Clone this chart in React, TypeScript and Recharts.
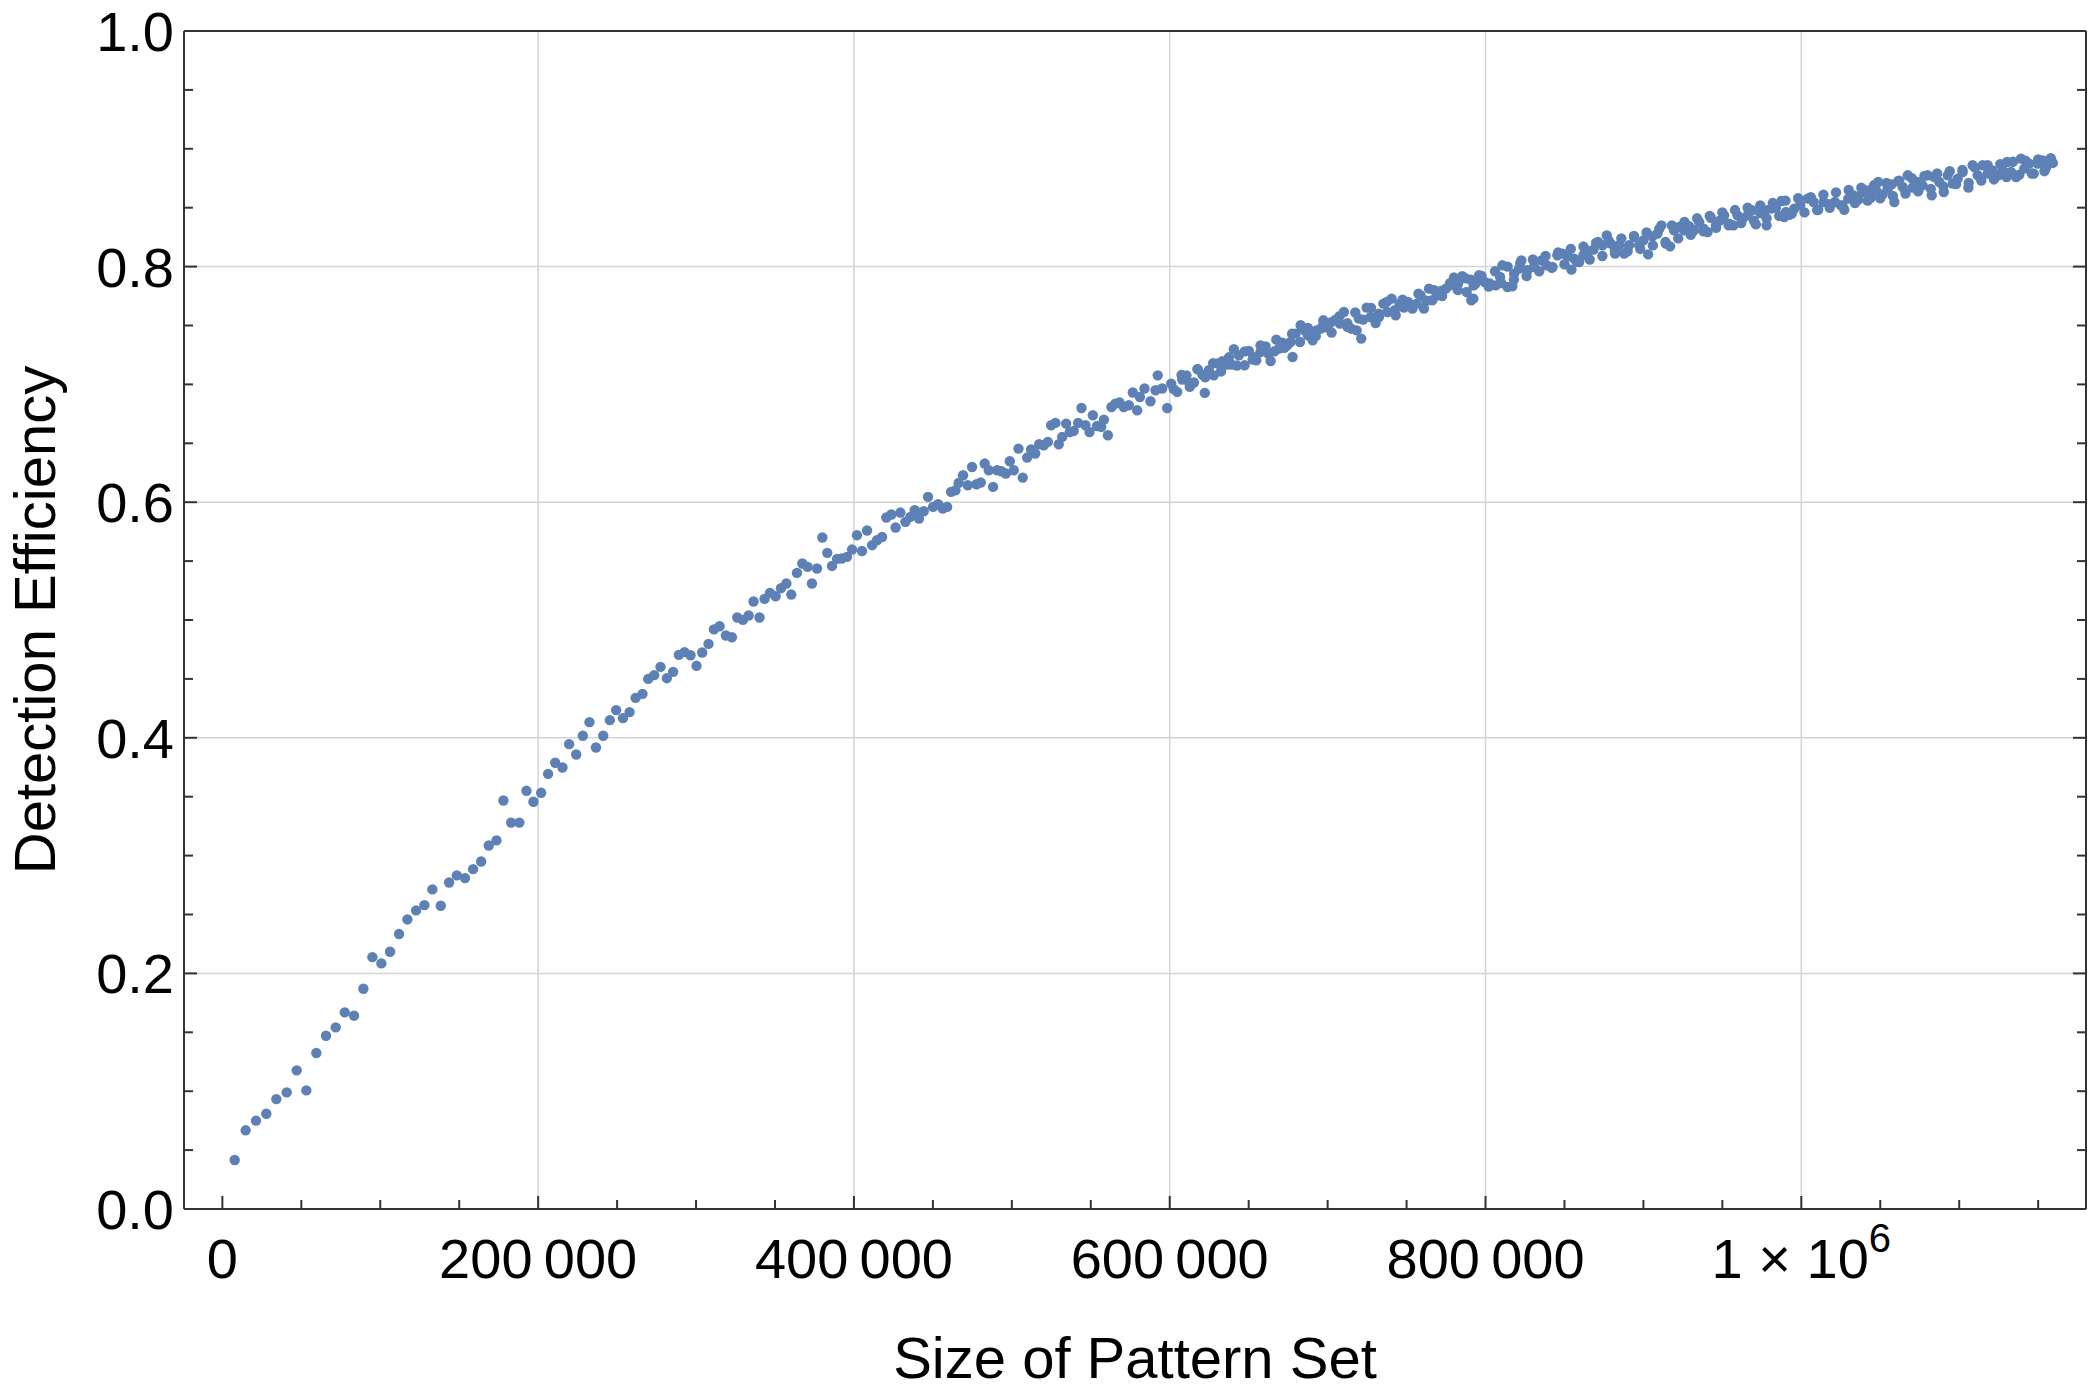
import { ScatterChart, Scatter, XAxis, YAxis, CartesianGrid, Label } from 'recharts';

// pattern-set sizes (individually visible points)
const patternSizes = [
  7800, 14760, 21300, 27840, 34170, 40740, 47080, 53180, 59520, 65650,
  71790, 77500, 83400, 89300, 95000, 100700, 106200, 111900, 117200, 122700,
  127950, 133000, 138300, 143600, 148500, 153700, 158800, 163900, 168700, 173600,
  178000, 182900, 188100, 192600, 197000, 201900, 206300, 210800, 215400, 219600,
  224100, 228300, 232500, 236600, 241200, 245400, 249400, 253700, 257900, 261700,
  266100, 269700, 273500, 277500, 281500, 285500, 289100, 292700, 296500, 300300,
  303900, 307900, 311300, 314900, 318900, 322700, 326100, 329700, 333300, 336400,
  340200, 343400, 346800, 350400, 353800, 357200, 360300, 363900, 367300, 370700,
  373400, 376600, 380000, 383100, 386100, 389300, 392200, 395600, 398800, 401900,
  405100, 408300, 411500, 414600, 417800, 420500, 423700, 426400, 429400, 432600,
  435700, 438500, 441200, 444200, 446900, 450100, 453300, 456200, 459000, 461500,
  464300, 466300, 469100, 472100, 474800, 477600, 480300, 482800, 485400, 488100,
  490700, 493400, 496200, 498700, 501200, 504200, 506900, 509700, 512200, 514800,
  517300, 520200, 522800, 524900, 527600, 529700, 531900, 534400, 536700, 539200,
  542000, 544100, 546600, 549200, 551300, 554000, 556600, 558300, 560800, 563100,
  565600, 568200, 570900, 574100, 576600, 579400, 581100, 584000, 587800, 591000,
  592400, 595200, 598400, 600900, 604700, 607900, 610600, 612700, 615300, 617800,
  620600, 622200, 624800, 627900, 630500, 633200, 636400, 639200, 640600, 643800,
  647400, 650100, 652900, 654800, 657500, 660700, 663900, 666400, 669100, 671300,
  674400, 676500, 677800, 679700, 682900, 685400, 687500, 690500, 693000, 695600,
  697300, 699800, 702300, 705100, 707800, 710300, 712500, 715000, 718400, 719800,
  721300, 724700, 727200, 730400, 732500, 735300, 737800, 740500, 743100, 745600,
  748300, 750900, 753700, 756400, 758900, 761000, 764200, 766300, 769500, 772000,
  774800, 777500, 780000, 782600, 785300, 788100, 790600, 791000, 792300, 793700,
  795900, 799500, 802800, 806500, 809200, 810700, 813900, 817000, 818100, 821200,
  822700, 826500, 830700, 835400, 838800, 842400, 845500, 848700, 851900, 854400,
  856100, 859300, 862000, 865000, 868400, 871300, 874100, 876800, 879300, 881900,
  884600, 887800, 890900, 894100, 897300, 900000, 903000, 905700, 908900, 911400,
  914200, 916900, 919400, 922600, 925800, 929000, 932100, 935300, 938100, 940600,
  942700, 945900, 948600, 951100, 954300, 957100, 959600, 962800, 965900, 968700,
  971200, 974000, 976900, 978000, 980700, 983900, 987500, 989100, 990200, 992300,
  995500, 999300, 1004000, 1007800, 1010700, 1014100, 1017700, 1021300, 1025100, 1027200,
  1029700, 1033100, 1036100, 1038800, 1041600, 1044100, 1047300, 1048700, 1051500, 1054700,
  1057200, 1058900, 1061400, 1064200, 1067400, 1070500, 1073700, 1076800, 1080000, 1082600,
  1084200, 1087400, 1090200, 1092700, 1095900, 1099100, 1102200, 1105800, 1108500, 1111700,
  1114900, 1118000, 1121200, 1124800, 1127600, 1130300, 1132800, 1136000, 1139100, 1141200,
  1144400, 1147200, 1149700, 1152900, 1155000, 1157100, 1159300,
];

const efficiency = [
  0.0416, 0.0668, 0.0750, 0.0809, 0.0933, 0.0990, 0.1177, 0.1007, 0.1324, 0.1471,
  0.1542, 0.1669, 0.1641, 0.1870, 0.2138, 0.2085, 0.2184, 0.2334, 0.2458, 0.2535,
  0.2580, 0.2713, 0.2574, 0.2772, 0.2832, 0.2809, 0.2885, 0.2950, 0.3086, 0.3129,
  0.3468, 0.3280, 0.3280, 0.3550, 0.3457, 0.3533, 0.3694, 0.3788, 0.3748, 0.3946,
  0.3858, 0.4017, 0.4133, 0.3918, 0.4017, 0.4150, 0.4235, 0.4167, 0.4218, 0.4339,
  0.4373, 0.4500, 0.4532, 0.4602, 0.4506, 0.4560, 0.4704, 0.4727, 0.4701, 0.4611,
  0.4724, 0.4797, 0.4920, 0.4947, 0.4868, 0.4854, 0.5021, 0.5001, 0.5038, 0.5157,
  0.5021, 0.5179, 0.5230, 0.5202, 0.5270, 0.5310, 0.5216, 0.5400, 0.5480, 0.5451,
  0.5310, 0.5437, 0.5700, 0.5570, 0.5459, 0.5519, 0.5522, 0.5536, 0.5598, 0.5720,
  0.5586, 0.5760, 0.5635, 0.5677, 0.5705, 0.5870, 0.5896, 0.5785, 0.5912, 0.5833,
  0.5875, 0.5932, 0.5861, 0.5923, 0.6045, 0.5960, 0.5983, 0.5946, 0.5960, 0.6088,
  0.6101, 0.6164, 0.6229, 0.6144, 0.6299, 0.6152, 0.6167, 0.6328, 0.6271, 0.6130,
  0.6271, 0.6263, 0.6243, 0.6348, 0.6271, 0.6455, 0.6209, 0.6379, 0.6447, 0.6413,
  0.6492, 0.6483, 0.6512, 0.6653, 0.6673, 0.6492, 0.6554, 0.6667, 0.6596, 0.6605,
  0.6673, 0.6800, 0.6653, 0.6596, 0.6738, 0.6647, 0.6639, 0.6701, 0.6568, 0.6808,
  0.6837, 0.6846, 0.6808, 0.6823, 0.6931, 0.6780, 0.6893, 0.6965, 0.6857, 0.6950,
  0.7077, 0.6965, 0.6800, 0.7007, 0.6936, 0.7042, 0.7077, 0.6979, 0.7016, 0.7128,
  0.7083, 0.6928, 0.7120, 0.7077, 0.7177, 0.7196, 0.7168, 0.7168, 0.7298, 0.7247,
  0.7162, 0.7284, 0.7233, 0.7205, 0.7275, 0.7323, 0.7199, 0.7281, 0.7304, 0.7355,
  0.7332, 0.7360, 0.7233, 0.7431, 0.7502, 0.7459, 0.7417, 0.7374, 0.7459, 0.7473,
  0.7544, 0.7482, 0.7529, 0.7550, 0.7516, 0.7615, 0.7489, 0.7473, 0.7459, 0.7558,
  0.7389, 0.7652, 0.7572, 0.7521, 0.7572, 0.7686, 0.7615, 0.7728, 0.7587, 0.7686,
  0.7652, 0.7700, 0.7643, 0.7686, 0.7756, 0.7643, 0.7813, 0.7714, 0.7756, 0.7793,
  0.7813, 0.7841, 0.7907, 0.7856, 0.7918, 0.7784, 0.7889, 0.7714, 0.7728, 0.7856,
  0.7926, 0.7869, 0.7856, 0.7841, 0.7912, 0.8011, 0.7827, 0.7833, 0.7940, 0.7983,
  0.8053, 0.7969, 0.7997, 0.8053, 0.8011, 0.7997, 0.8096, 0.8110, 0.8087, 0.7974,
  0.8068, 0.8039, 0.8096, 0.8132, 0.8144, 0.8209, 0.8181, 0.8265, 0.8195, 0.8138,
  0.8181, 0.8110, 0.8181, 0.8251, 0.8181, 0.8223, 0.8104, 0.8257, 0.8280, 0.8350,
  0.8195, 0.8172, 0.8308, 0.8336, 0.8308, 0.8342, 0.8308, 0.8378, 0.8322, 0.8294,
  0.8415, 0.8350, 0.8393, 0.8435, 0.8365, 0.8350, 0.8435, 0.8407, 0.8435, 0.8478,
  0.8359, 0.8455, 0.8478, 0.8350, 0.8492, 0.8500, 0.8557, 0.8421, 0.8463, 0.8440,
  0.8492, 0.8520, 0.8577, 0.8548, 0.8483, 0.8548, 0.8529, 0.8548, 0.8520, 0.8483,
  0.8577, 0.8605, 0.8568, 0.8633, 0.8647, 0.8585, 0.8647, 0.8718, 0.8613, 0.8662,
  0.8698, 0.8548, 0.8727, 0.8676, 0.8775, 0.8670, 0.8718, 0.8690, 0.8775, 0.8605,
  0.8760, 0.8718, 0.8633, 0.8775, 0.8704, 0.8747, 0.8803, 0.8670, 0.8860, 0.8775,
  0.8860, 0.8789, 0.8817, 0.8775, 0.8817, 0.8888, 0.8803, 0.8760, 0.8917, 0.8832,
  0.8874, 0.8789, 0.8874, 0.8902, 0.8840, 0.8902, 0.8880,
];

// points hidden inside the thick band on the right half of the plot
const bandSizes = [
  602500, 607500, 612500, 617500, 622500, 627500, 632500, 637500, 642500, 647500,
  652500, 657500, 662500, 667500, 672500, 677500, 682500, 687500, 692500, 697500,
  702500, 707500, 712500, 717500, 722500, 727500, 732500, 737500, 742500, 747500,
  752500, 757500, 762500, 767500, 772500, 777500, 782500, 787500, 792500, 797500,
  802000, 806000, 810000, 814000, 818000, 822000, 826000, 830000, 834000, 838000,
  842000, 846000, 850000, 854000, 858000, 862000, 866000, 870000, 874000, 878000,
  882000, 886000, 890000, 894000, 898000, 902000, 906000, 910000, 914000, 918000,
  922000, 926000, 930000, 934000, 938000, 942000, 946000, 950000, 954000, 958000,
  962000, 966000, 970000, 974000, 978000, 982000, 986000, 990000, 994000, 998000,
  1002000, 1006000, 1010000, 1014000, 1018000, 1022000, 1026000, 1030000, 1034000, 1038000,
  1042000, 1046000, 1050000, 1054000, 1058000, 1062000, 1066000, 1070000, 1074000, 1078000,
  1082000, 1086000, 1090000, 1094000, 1098000, 1102000, 1106000, 1110000, 1114000, 1118000,
  1122000, 1126000, 1130000, 1134000, 1138000, 1142000, 1146000, 1150000, 1154000, 1158000,
];

const bandEfficiency = [
  0.696, 0.708, 0.701, 0.713, 0.706, 0.718, 0.711, 0.723, 0.716, 0.728,
  0.721, 0.733, 0.726, 0.738, 0.731, 0.743, 0.736, 0.748, 0.741, 0.752,
  0.744, 0.758, 0.752, 0.761, 0.755, 0.765, 0.760, 0.770, 0.763, 0.772,
  0.767, 0.777, 0.771, 0.780, 0.775, 0.786, 0.780, 0.790, 0.784, 0.792,
  0.783, 0.796, 0.786, 0.800, 0.789, 0.803, 0.792, 0.806, 0.796, 0.809,
  0.799, 0.812, 0.802, 0.815, 0.804, 0.817, 0.806, 0.820, 0.809, 0.822,
  0.811, 0.824, 0.813, 0.826, 0.815, 0.829, 0.818, 0.832, 0.821, 0.835,
  0.824, 0.838, 0.827, 0.841, 0.830, 0.843, 0.833, 0.846, 0.835, 0.848,
  0.837, 0.850, 0.839, 0.852, 0.841, 0.854, 0.843, 0.856, 0.845, 0.858,
  0.846, 0.859, 0.848, 0.861, 0.850, 0.863, 0.852, 0.865, 0.854, 0.867,
  0.856, 0.869, 0.858, 0.871, 0.860, 0.873, 0.862, 0.875, 0.864, 0.877,
  0.866, 0.879, 0.868, 0.881, 0.870, 0.882, 0.871, 0.884, 0.873, 0.886,
  0.874, 0.887, 0.876, 0.889, 0.878, 0.890, 0.879, 0.891, 0.881, 0.892,
];

const xLabelTicks = [0, 200000, 400000, 600000, 800000, 1000000];
const xGridValues = [200000, 400000, 600000, 800000, 1000000];
const xAllTicks = [
  0, 50000, 100000, 150000, 200000, 250000, 300000, 350000, 400000, 450000, 500000, 550000,
  600000, 650000, 700000, 750000, 800000, 850000, 900000, 950000, 1000000, 1050000, 1100000, 1150000,
];
const yLabelTicks = [0, 0.2, 0.4, 0.6, 0.8, 1];
const yGridValues = [0.2, 0.4, 0.6, 0.8];
const yAllTicks = [
  0, 0.05, 0.1, 0.15, 0.2, 0.25, 0.3, 0.35, 0.4, 0.45, 0.5,
  0.55, 0.6, 0.65, 0.7, 0.75, 0.8, 0.85, 0.9, 0.95, 1,
];

const data = [
  ...patternSizes.map((size, i) => ({ size, eff: efficiency[i] })),
  ...bandSizes.map((size, i) => ({ size, eff: bandEfficiency[i] })),
];

const FONT = '"Liberation Sans", Arial, Helvetica, sans-serif';
const FRAME = '#333333';
const GRID = '#d4d4d4';
const DOT = '#5E81B5';
const MAJOR = 13;
const MINOR = 9;

const isXMajor = (v: number) => xLabelTicks.includes(v);
const isYMajor = (v: number) => yLabelTicks.some((t) => Math.abs(t - v) < 1e-9);

function xTickText(v: number) {
  if (v === 1000000) {
    return (
      <>
        <tspan>1 × 10</tspan>
        <tspan dy={-26} fontSize={40}>6</tspan>
      </>
    );
  }
  if (v === 0) return '0';
  const s = String(v);
  return s.slice(0, s.length - 3) + '\u2009' + s.slice(s.length - 3);
}

function BottomTick(props: any) {
  const { x, y, payload } = props;
  const major = isXMajor(payload.value);
  return (
    <g>
      <line x1={x} x2={x} y1={y} y2={y - (major ? MAJOR : MINOR)} stroke={FRAME} strokeWidth={2} />
      {major && (
        <text x={x} y={y + 69} textAnchor="middle" fontSize={56} fontFamily={FONT} fill="#000">
          {xTickText(payload.value)}
        </text>
      )}
    </g>
  );
}

function TopTick(props: any) {
  const { x, y, payload } = props;
  const major = isXMajor(payload.value);
  return <line x1={x} x2={x} y1={y} y2={y + (major ? MAJOR : MINOR)} stroke={FRAME} strokeWidth={2} />;
}

function LeftTick(props: any) {
  const { x, y, payload } = props;
  const major = isYMajor(payload.value);
  return (
    <g>
      <line x1={x} x2={x + (major ? MAJOR : MINOR)} y1={y} y2={y} stroke={FRAME} strokeWidth={2} />
      {major && (
        <text x={x - 10} y={y + 20} textAnchor="end" fontSize={56} fontFamily={FONT} fill="#000">
          {payload.value.toFixed(1)}
        </text>
      )}
    </g>
  );
}

function RightTick(props: any) {
  const { x, y, payload } = props;
  const major = isYMajor(payload.value);
  return <line x1={x} x2={x - (major ? MAJOR : MINOR)} y1={y} y2={y} stroke={FRAME} strokeWidth={2} />;
}

const Dot = (props: any) => <circle cx={props.cx} cy={props.cy} r={5.2} fill={DOT} />;

export default function App() {
  return (
    <div style={{ position: 'absolute', left: 0, top: 0, width: 2088, height: 1398, background: '#fff' }}>
      <ScatterChart width={2088} height={1398} margin={{ top: 0, right: 0, bottom: 0, left: 0 }}>
        <CartesianGrid
          stroke={GRID}
          strokeWidth={1.5}
          verticalValues={xGridValues}
          horizontalValues={yGridValues}
        />
        <XAxis
          type="number"
          dataKey="size"
          domain={[-24300, 1180300]}
          allowDataOverflow
          ticks={xAllTicks}
          interval={0}
          height={189}
          tickSize={0}
          tickMargin={0}
          tickLine={false}
          axisLine={{ stroke: FRAME, strokeWidth: 2 }}
          tick={<BottomTick />}
        >
          <Label
            content={() => (
              <text x={1135} y={1378} textAnchor="middle" fontSize={58} fontFamily={FONT} fill="#000">
                Size of Pattern Set
              </text>
            )}
          />
        </XAxis>
        <XAxis
          xAxisId="top"
          orientation="top"
          type="number"
          domain={[-24300, 1180300]}
          allowDataOverflow
          ticks={xAllTicks}
          interval={0}
          height={31}
          tickSize={0}
          tickMargin={0}
          tickLine={false}
          axisLine={{ stroke: FRAME, strokeWidth: 2 }}
          tick={<TopTick />}
        />
        <YAxis
          type="number"
          dataKey="eff"
          domain={[0, 1]}
          allowDataOverflow
          ticks={yAllTicks}
          interval={0}
          width={184}
          tickSize={0}
          tickMargin={0}
          tickLine={false}
          axisLine={{ stroke: FRAME, strokeWidth: 2 }}
          tick={<LeftTick />}
        >
          <Label
            content={() => (
              <text
                x={55}
                y={620}
                transform="rotate(-90, 55, 620)"
                textAnchor="middle"
                fontSize={58}
                fontFamily={FONT}
                fill="#000"
              >
                Detection Efficiency
              </text>
            )}
          />
        </YAxis>
        <YAxis
          yAxisId="right"
          orientation="right"
          type="number"
          domain={[0, 1]}
          allowDataOverflow
          ticks={yAllTicks}
          interval={0}
          width={2}
          tickSize={0}
          tickMargin={0}
          tickLine={false}
          axisLine={{ stroke: FRAME, strokeWidth: 2 }}
          tick={<RightTick />}
        />
        <Scatter data={data} fill={DOT} shape={Dot} isAnimationActive={false} />
      </ScatterChart>
    </div>
  );
}
